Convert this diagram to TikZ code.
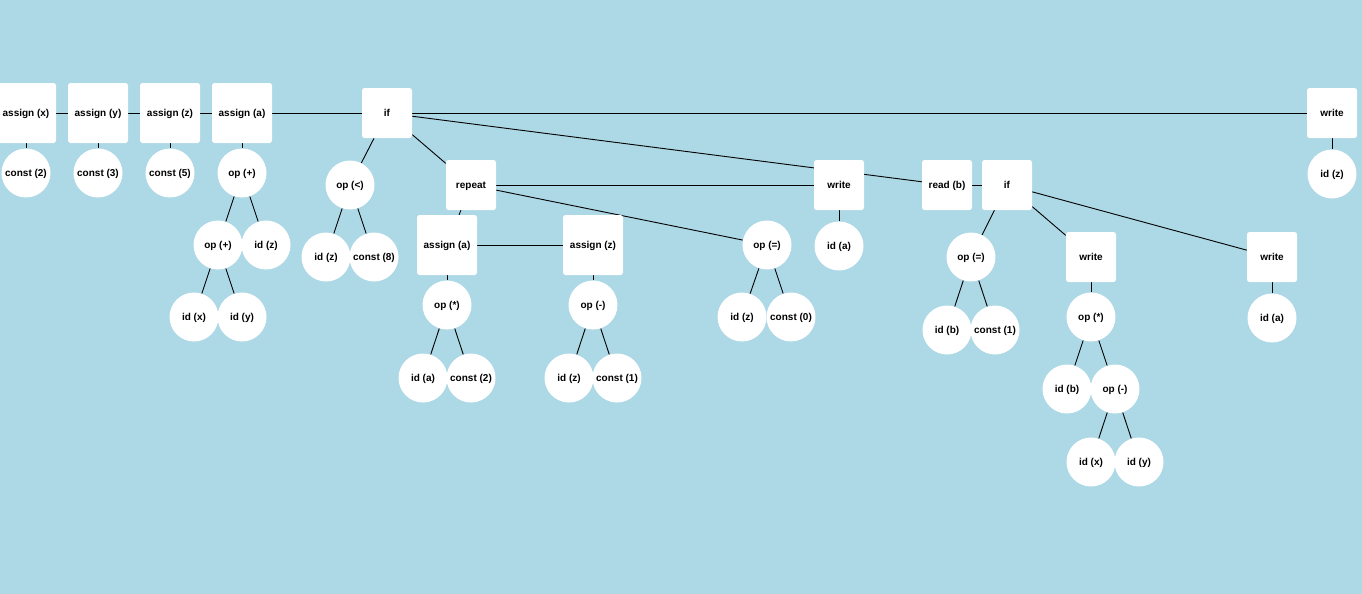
\documentclass[tikz,border=0pt]{standalone}
\usepackage{fontspec}
\setmainfont{Liberation Sans}
\definecolor{bg}{HTML}{ADD8E6}
\pgfdeclarelayer{bgfill}
\pgfdeclarelayer{edges}
\pgfsetlayers{bgfill,edges,main}
\begin{document}
\begin{tikzpicture}[x=1pt,y=-1pt,
  lbl/.style={font=\bfseries\fontsize{10}{12}\selectfont, text=black, text height=7pt, text depth=0pt},
  stmt/.style={lbl, fill=white, rounded corners=2.5pt, minimum width=50pt, minimum height=50pt, inner sep=0pt},
  widestmt/.style={stmt, minimum width=60pt, minimum height=60pt},
  expr/.style={lbl, circle, fill=white, minimum size=49pt, inner sep=0pt},
  link/.style={draw=black, line width=0.9pt}]
\useasboundingbox (0,0) rectangle (1362,594);
\begin{pgfonlayer}{bgfill}
  \fill[bg] (0,0) rectangle (1362,594);
\end{pgfonlayer}

% statement sequence along the top
\node[widestmt] (ax) at (26,113) {assign (x)};
\node[widestmt] (ay) at (98,113) {assign (y)};
\node[widestmt] (az) at (170,113) {assign (z)};
\node[widestmt] (aa) at (242,113) {assign (a)};
\node[stmt] (if1) at (387,113) {if};
\node[stmt] (w4) at (1332,113) {write};

\node[expr] (c2) at (26,173) {const (2)};
\node[expr] (c3) at (98,173) {const (3)};
\node[expr] (c5) at (170,173) {const (5)};
\node[expr] (p1) at (242,173) {op (+)};
\node[expr] (p2) at (218,245) {op (+)};
\node[expr] (iz1) at (266,245) {id (z)};
\node[expr] (ix1) at (194,317) {id (x)};
\node[expr] (iy1) at (242,317) {id (y)};

% condition of the first if
\node[expr] (lt) at (350,185) {op (<)};
\node[expr] (iz2) at (326,257) {id (z)};
\node[expr] (c8) at (374,257) {const (8)};

% repeat loop
\node[stmt] (rep) at (471,185) {repeat};
\node[widestmt] (aa2) at (447,245) {assign (a)};
\node[widestmt] (az2) at (593,245) {assign (z)};
\node[expr] (mul1) at (447,305) {op (*)};
\node[expr] (ia1) at (423,378) {id (a)};
\node[expr] (c2b) at (471,378) {const (2)};
\node[expr] (sub1) at (593,305) {op (-)};
\node[expr] (iz3) at (569,378) {id (z)};
\node[expr] (c1) at (617,378) {const (1)};
\node[expr] (eq1) at (767,245) {op (=)};
\node[expr] (iz4) at (742,317) {id (z)};
\node[expr] (c0) at (791,317) {const (0)};

% write / read / inner if
\node[stmt] (w1) at (839,185) {write};
\node[expr] (ia2) at (839,246) {id (a)};
\node[stmt] (rd) at (947,185) {read (b)};
\node[stmt] (if2) at (1007,185) {if};
\node[expr] (eq2) at (971,257) {op (=)};
\node[expr] (ib1) at (947,330) {id (b)};
\node[expr] (c1b) at (995,330) {const (1)};
\node[stmt] (w2) at (1091,257) {write};
\node[expr] (mul2) at (1091,317) {op (*)};
\node[expr] (ib2) at (1067,389) {id (b)};
\node[expr] (sub2) at (1115,389) {op (-)};
\node[expr] (ix2) at (1091,462) {id (x)};
\node[expr] (iy2) at (1139,462) {id (y)};
\node[stmt] (w3) at (1272,257) {write};
\node[expr] (ia3) at (1272,318) {id (a)};
\node[expr] (iz5) at (1332,174) {id (z)};

\begin{pgfonlayer}{edges}
  \foreach \a/\b in {ax/ay, ay/az, az/aa, aa/if1, if1/w4,
      ax/c2, ay/c3, az/c5, aa/p1, p1/p2, p1/iz1, p2/ix1, p2/iy1,
      if1/lt, lt/iz2, lt/c8, if1/rep, if1/rd,
      rep/aa2, aa2/az2, rep/eq1, rep/w1,
      aa2/mul1, mul1/ia1, mul1/c2b, az2/sub1, sub1/iz3, sub1/c1,
      eq1/iz4, eq1/c0, w1/ia2,
      rd/if2, if2/eq2, eq2/ib1, eq2/c1b, if2/w2, if2/w3,
      w2/mul2, mul2/ib2, mul2/sub2, sub2/ix2, sub2/iy2, w3/ia3, w4/iz5}
    \draw[link] (\a) -- (\b);
\end{pgfonlayer}
\end{tikzpicture}
\end{document}
